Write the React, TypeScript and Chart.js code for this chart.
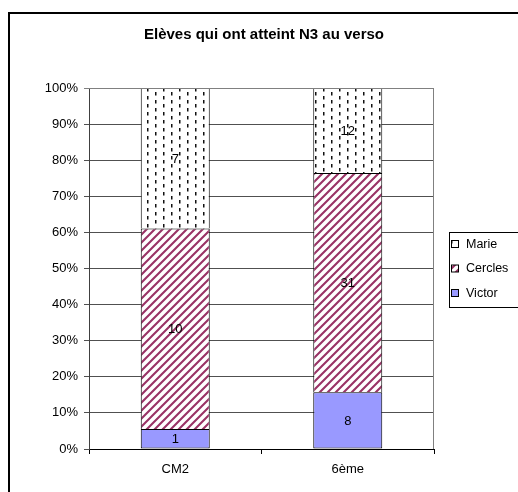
import React, { useEffect, useRef } from "react";
import { Chart, registerables } from "chart.js";

Chart.register(...registerables);

const TITLE = "Elèves qui ont atteint N3 au verso";
const CATEGORIES = ["CM2", "6ème"];
const SERIES_NAMES = ["Victor", "Cercles", "Marie"];
const VICTOR = [1, 8];
const CERCLES = [10, 31];
const MARIE = [7, 12];
const Y_TICKS = [0, 10, 20, 30, 40, 50, 60, 70, 80, 90, 100];

const FONT = "'Liberation Sans', Arial, sans-serif";

function makeDotPattern(): CanvasPattern | string {
  const c = document.createElement("canvas");
  c.width = 16;
  c.height = 8;
  const g = c.getContext("2d");
  if (!g) return "#fff";
  g.fillStyle = "#ffffff";
  g.fillRect(0, 0, 16, 8);
  g.fillStyle = "#111111";
  g.fillRect(3, 0, 1.5, 3.5);
  g.fillRect(11, 4, 1.5, 3.5);
  const p = g.createPattern(c, "repeat");
  return p || "#fff";
}

function makeStripePattern(): CanvasPattern | string {
  const s = 8;
  const c = document.createElement("canvas");
  c.width = s;
  c.height = s;
  const g = c.getContext("2d");
  if (!g) return "#993366";
  g.fillStyle = "#ffffff";
  g.fillRect(0, 0, s, s);
  g.strokeStyle = "#993366";
  g.lineWidth = 2.1;
  g.beginPath();
  g.moveTo(-2, s + 2);
  g.lineTo(s + 2, -2);
  g.moveTo(-2, 2);
  g.lineTo(2, -2);
  g.moveTo(s - 2, s + 2);
  g.lineTo(s + 2, s - 2);
  g.stroke();
  const p = g.createPattern(c, "repeat");
  return p || "#993366";
}

export default function App() {
  const ref = useRef<HTMLCanvasElement | null>(null);

  useEffect(() => {
    const canvas = ref.current;
    if (!canvas) return;
    const counts = [VICTOR, CERCLES, MARIE];
    const totals = CATEGORIES.map((_, i) => counts.reduce((s, a) => s + a[i], 0));
    const pct = (arr: number[]) => arr.map((v, i) => (v / totals[i]) * 100);

    const dotP = makeDotPattern();
    const stripeP = makeStripePattern();
    const fills = ["#9999FF", stripeP, dotP];

    const bgPlugin = {
      id: "bgPlugin",
      beforeDraw(chart: any) {
        const ctx = chart.ctx;
        ctx.save();
        ctx.fillStyle = "#fff";
        ctx.fillRect(0, 0, chart.width, chart.height);
        ctx.strokeStyle = "#000";
        ctx.lineWidth = 2;
        ctx.strokeRect(9, 13, 700, 700);
        ctx.fillStyle = "#000";
        ctx.font = `bold 15px ${FONT}`;
        ctx.textAlign = "center";
        ctx.textBaseline = "middle";
        ctx.fillText(TITLE, 264, 35);
        ctx.restore();
      },
      afterDatasetsDraw(chart: any) {
        const ctx = chart.ctx;
        const a = chart.chartArea;
        ctx.save();
        // plot border top/right
        ctx.strokeStyle = "#808080";
        ctx.lineWidth = 1;
        ctx.beginPath();
        ctx.moveTo(a.left, a.top + 0.5);
        ctx.lineTo(a.right - 0.5, a.top + 0.5);
        ctx.lineTo(a.right - 0.5, a.bottom);
        ctx.stroke();
        // data labels
        ctx.fillStyle = "#000";
        ctx.font = `13px ${FONT}`;
        ctx.textAlign = "center";
        ctx.textBaseline = "middle";
        chart.data.datasets.forEach((ds: any, di: number) => {
          const meta = chart.getDatasetMeta(di);
          meta.data.forEach((el: any, i: number) => {
            const yc = (el.y + el.base) / 2;
            ctx.fillText(String(counts[di][i]), el.x, yc + 1);
          });
        });
        // legend
        const lx = 449, ly = 232;
        ctx.strokeStyle = "#000";
        ctx.lineWidth = 1;
        ctx.fillStyle = "#fff";
        ctx.fillRect(lx + 0.5, ly + 0.5, 200, 75);
        ctx.strokeRect(lx + 0.5, ly + 0.5, 200, 75);
        const items = [2, 1, 0];
        items.forEach((di, k) => {
          const y = 244 + k * 24.5;
          ctx.fillStyle = fills[di] as any;
          ctx.fillRect(451.5, y - 3.5, 7, 7);
          ctx.strokeStyle = "#000";
          ctx.strokeRect(451.5, y - 3.5, 7, 7);
          ctx.fillStyle = "#000";
          ctx.font = `12.5px ${FONT}`;
          ctx.textAlign = "left";
          ctx.textBaseline = "middle";
          ctx.fillText(SERIES_NAMES[di], 466, y + 0.5);
        });
        ctx.restore();
      },
    };

    const chart = new Chart(canvas, {
      type: "bar",
      data: {
        labels: CATEGORIES,
        datasets: SERIES_NAMES.map((name, di) => ({
          label: name,
          data: pct(counts[di]),
          backgroundColor: fills[di] as any,
          borderColor: "#000",
          borderWidth: { top: 1, left: 1, right: 1, bottom: di === 0 ? 1 : 0 },
          borderSkipped: false,
          barPercentage: 0.4,
          categoryPercentage: 1,
        })),
      },
      options: {
        responsive: false,
        animation: false,
        layout: { padding: { left: 0, top: 88, right: 84, bottom: 0 } },
        plugins: {
          legend: { display: false },
          title: { display: false },
          tooltip: { enabled: false },
        },
        scales: {
          x: {
            stacked: true,
            offset: true,
            afterFit(scale: any) {
              scale.height = 43;
            },
            grid: {
              offset: true,
              drawOnChartArea: false,
              drawTicks: true,
              tickLength: 5,
              color: "#000",
            },
            border: { display: true, color: "#000" },
            ticks: {
              color: "#000",
              font: { family: FONT, size: 13 },
              padding: 8,
            },
          },
          y: {
            stacked: true,
            min: 0,
            max: 100,
            afterFit(scale: any) {
              scale.width = 89;
            },
            afterBuildTicks(scale: any) {
              scale.ticks = Y_TICKS.map((v) => ({ value: v }));
            },
            grid: {
              color: (c: any) => (c.tick && c.tick.value === 100 ? "#808080" : "#505050"),
              drawTicks: true,
              tickLength: 5,
            },
            border: { display: true, color: "#404040" },
            ticks: {
              color: "#000",
              font: { family: FONT, size: 13 },
              padding: 6,
              callback: (v: any) => `${v}%`,
            },
          },
        },
      },
      plugins: [bgPlugin],
    });
    return () => chart.destroy();
  }, []);

  return (
    <div style={{ position: "fixed", left: 0, top: 0, width: 518, height: 492 }}>
      <canvas ref={ref} width={518} height={492} style={{ width: 518, height: 492, display: "block" }} />
    </div>
  );
}
